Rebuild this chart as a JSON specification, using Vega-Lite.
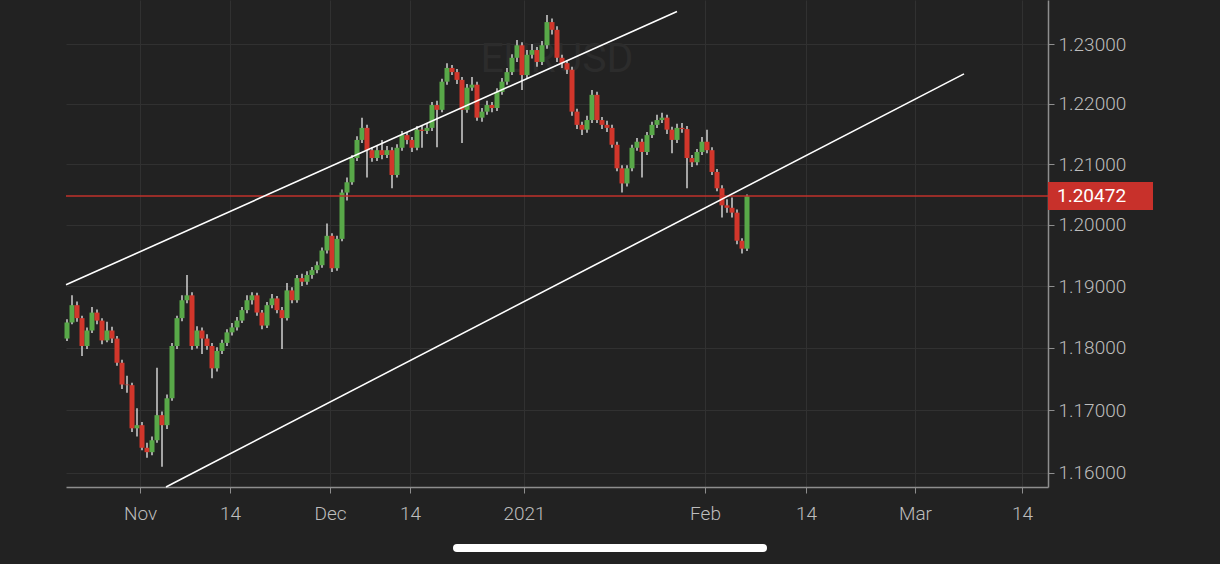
{
"$schema": "https://vega.github.io/schema/vega-lite/v6.json",
"width": 982, "height": 487,
"autosize": {"type": "none"},
"padding": {"left": 66, "top": 0, "right": 172, "bottom": 77},
"background": "#222222",
"config": {"view": {"stroke": null}, "font": "Roboto"},
"datasets": {
"candles": [
{"k":0,"o":1.1815,"h":1.1846,"l":1.1811,"c":1.1841},
{"k":1,"o":1.1841,"h":1.1885,"l":1.1838,"c":1.1869},
{"k":2,"o":1.1869,"h":1.1875,"l":1.1842,"c":1.1848},
{"k":3,"o":1.1848,"h":1.1852,"l":1.1787,"c":1.1803},
{"k":4,"o":1.1803,"h":1.1833,"l":1.1798,"c":1.1828},
{"k":5,"o":1.1828,"h":1.1866,"l":1.1824,"c":1.1857},
{"k":6,"o":1.1857,"h":1.1862,"l":1.1838,"c":1.1844},
{"k":7,"o":1.1844,"h":1.1848,"l":1.1806,"c":1.1812},
{"k":8,"o":1.1812,"h":1.1842,"l":1.1809,"c":1.1828},
{"k":9,"o":1.1828,"h":1.1834,"l":1.1808,"c":1.1815},
{"k":10,"o":1.1815,"h":1.1819,"l":1.1771,"c":1.1776},
{"k":11,"o":1.1776,"h":1.1781,"l":1.1734,"c":1.1741},
{"k":12,"o":1.1741,"h":1.1755,"l":1.1728,"c":1.1740},
{"k":13,"o":1.1740,"h":1.1744,"l":1.1665,"c":1.1671},
{"k":14,"o":1.1671,"h":1.1703,"l":1.1658,"c":1.1676},
{"k":15,"o":1.1676,"h":1.1681,"l":1.1636,"c":1.1640},
{"k":16,"o":1.1640,"h":1.1648,"l":1.1624,"c":1.1633},
{"k":17,"o":1.1633,"h":1.1658,"l":1.1628,"c":1.1652},
{"k":18,"o":1.1652,"h":1.1768,"l":1.1648,"c":1.1692},
{"k":19,"o":1.1692,"h":1.1698,"l":1.1610,"c":1.1676},
{"k":20,"o":1.1676,"h":1.1725,"l":1.1670,"c":1.1719},
{"k":21,"o":1.1719,"h":1.1808,"l":1.1715,"c":1.1803},
{"k":22,"o":1.1803,"h":1.1852,"l":1.1798,"c":1.1848},
{"k":23,"o":1.1848,"h":1.1885,"l":1.1843,"c":1.1877},
{"k":24,"o":1.1877,"h":1.1918,"l":1.1872,"c":1.1885},
{"k":25,"o":1.1885,"h":1.1890,"l":1.1797,"c":1.1803},
{"k":26,"o":1.1803,"h":1.1835,"l":1.1799,"c":1.1828},
{"k":27,"o":1.1828,"h":1.1833,"l":1.1790,"c":1.1815},
{"k":28,"o":1.1815,"h":1.1822,"l":1.1797,"c":1.1803},
{"k":29,"o":1.1803,"h":1.1808,"l":1.1751,"c":1.1767},
{"k":30,"o":1.1767,"h":1.1801,"l":1.1762,"c":1.1795},
{"k":31,"o":1.1795,"h":1.1813,"l":1.1790,"c":1.1808},
{"k":32,"o":1.1808,"h":1.1830,"l":1.1803,"c":1.1825},
{"k":33,"o":1.1825,"h":1.1840,"l":1.1820,"c":1.1833},
{"k":34,"o":1.1833,"h":1.1850,"l":1.1828,"c":1.1844},
{"k":35,"o":1.1844,"h":1.1866,"l":1.1840,"c":1.1861},
{"k":36,"o":1.1861,"h":1.1885,"l":1.1856,"c":1.1877},
{"k":37,"o":1.1877,"h":1.1890,"l":1.1870,"c":1.1885},
{"k":38,"o":1.1885,"h":1.1889,"l":1.1852,"c":1.1857},
{"k":39,"o":1.1857,"h":1.1861,"l":1.1830,"c":1.1836},
{"k":40,"o":1.1836,"h":1.1874,"l":1.1832,"c":1.1869},
{"k":41,"o":1.1869,"h":1.1887,"l":1.1864,"c":1.1880},
{"k":42,"o":1.1880,"h":1.1884,"l":1.1856,"c":1.1861},
{"k":43,"o":1.1861,"h":1.1866,"l":1.1798,"c":1.1848},
{"k":44,"o":1.1848,"h":1.1905,"l":1.1844,"c":1.1893},
{"k":45,"o":1.1893,"h":1.1898,"l":1.1872,"c":1.1877},
{"k":46,"o":1.1877,"h":1.1918,"l":1.1873,"c":1.1913},
{"k":47,"o":1.1913,"h":1.1920,"l":1.1900,"c":1.1907},
{"k":48,"o":1.1907,"h":1.1924,"l":1.1902,"c":1.1918},
{"k":49,"o":1.1918,"h":1.1931,"l":1.1912,"c":1.1926},
{"k":50,"o":1.1926,"h":1.1940,"l":1.1921,"c":1.1934},
{"k":51,"o":1.1934,"h":1.1963,"l":1.1930,"c":1.1958},
{"k":52,"o":1.1958,"h":1.2002,"l":1.1953,"c":1.1982},
{"k":53,"o":1.1982,"h":1.1986,"l":1.1923,"c":1.1929},
{"k":54,"o":1.1929,"h":1.1982,"l":1.1925,"c":1.1977},
{"k":55,"o":1.1977,"h":1.2058,"l":1.1973,"c":1.2053},
{"k":56,"o":1.2053,"h":1.2078,"l":1.2040,"c":1.2070},
{"k":57,"o":1.2070,"h":1.2115,"l":1.2066,"c":1.2110},
{"k":58,"o":1.2110,"h":1.2146,"l":1.2105,"c":1.2140},
{"k":59,"o":1.2140,"h":1.2177,"l":1.2135,"c":1.2160},
{"k":60,"o":1.2160,"h":1.2165,"l":1.2078,"c":1.2123},
{"k":61,"o":1.2123,"h":1.2128,"l":1.2104,"c":1.2110},
{"k":62,"o":1.2110,"h":1.2130,"l":1.2105,"c":1.2123},
{"k":63,"o":1.2123,"h":1.2140,"l":1.2108,"c":1.2115},
{"k":64,"o":1.2115,"h":1.2130,"l":1.2110,"c":1.2123},
{"k":65,"o":1.2123,"h":1.2128,"l":1.2060,"c":1.2082},
{"k":66,"o":1.2082,"h":1.2133,"l":1.2078,"c":1.2127},
{"k":67,"o":1.2127,"h":1.2155,"l":1.2122,"c":1.2148},
{"k":68,"o":1.2148,"h":1.2153,"l":1.2133,"c":1.2140},
{"k":69,"o":1.2140,"h":1.2145,"l":1.2120,"c":1.2127},
{"k":70,"o":1.2127,"h":1.2163,"l":1.2123,"c":1.2157},
{"k":71,"o":1.2157,"h":1.2163,"l":1.2127,"c":1.2155},
{"k":72,"o":1.2155,"h":1.2168,"l":1.2150,"c":1.2160},
{"k":73,"o":1.2160,"h":1.2203,"l":1.2155,"c":1.2198},
{"k":74,"o":1.2198,"h":1.2205,"l":1.2128,"c":1.2190},
{"k":75,"o":1.2190,"h":1.2242,"l":1.2186,"c":1.2237},
{"k":76,"o":1.2237,"h":1.2268,"l":1.2232,"c":1.2260},
{"k":77,"o":1.2260,"h":1.2265,"l":1.2248,"c":1.2253},
{"k":78,"o":1.2253,"h":1.2258,"l":1.2233,"c":1.2240},
{"k":79,"o":1.2240,"h":1.2245,"l":1.2135,"c":1.2190},
{"k":80,"o":1.2190,"h":1.2233,"l":1.2185,"c":1.2227},
{"k":81,"o":1.2227,"h":1.2245,"l":1.2222,"c":1.2232},
{"k":82,"o":1.2232,"h":1.2237,"l":1.2172,"c":1.2177},
{"k":83,"o":1.2177,"h":1.2193,"l":1.2170,"c":1.2187},
{"k":84,"o":1.2187,"h":1.2205,"l":1.2182,"c":1.2198},
{"k":85,"o":1.2198,"h":1.2203,"l":1.2186,"c":1.2193},
{"k":86,"o":1.2193,"h":1.2226,"l":1.2188,"c":1.2220},
{"k":87,"o":1.2220,"h":1.2243,"l":1.2215,"c":1.2237},
{"k":88,"o":1.2237,"h":1.2260,"l":1.2232,"c":1.2253},
{"k":89,"o":1.2253,"h":1.2283,"l":1.2248,"c":1.2277},
{"k":90,"o":1.2277,"h":1.2307,"l":1.2270,"c":1.2298},
{"k":91,"o":1.2298,"h":1.2303,"l":1.2223,"c":1.2248},
{"k":92,"o":1.2248,"h":1.2290,"l":1.2243,"c":1.2282},
{"k":93,"o":1.2282,"h":1.2300,"l":1.2276,"c":1.2290},
{"k":94,"o":1.2290,"h":1.2295,"l":1.2262,"c":1.2270},
{"k":95,"o":1.2270,"h":1.2305,"l":1.2265,"c":1.2298},
{"k":96,"o":1.2298,"h":1.2349,"l":1.2292,"c":1.2337},
{"k":97,"o":1.2337,"h":1.2343,"l":1.2316,"c":1.2324},
{"k":98,"o":1.2324,"h":1.2330,"l":1.2270,"c":1.2277},
{"k":99,"o":1.2277,"h":1.2282,"l":1.2260,"c":1.2268},
{"k":100,"o":1.2268,"h":1.2273,"l":1.2250,"c":1.2257},
{"k":101,"o":1.2257,"h":1.2262,"l":1.2180,"c":1.2187},
{"k":102,"o":1.2187,"h":1.2192,"l":1.2158,"c":1.2165},
{"k":103,"o":1.2165,"h":1.2170,"l":1.2148,"c":1.2157},
{"k":104,"o":1.2157,"h":1.2180,"l":1.2152,"c":1.2173},
{"k":105,"o":1.2173,"h":1.2223,"l":1.2168,"c":1.2215},
{"k":106,"o":1.2215,"h":1.2220,"l":1.2168,"c":1.2173},
{"k":107,"o":1.2173,"h":1.2178,"l":1.2158,"c":1.2165},
{"k":108,"o":1.2165,"h":1.2172,"l":1.2153,"c":1.2160},
{"k":109,"o":1.2160,"h":1.2165,"l":1.2127,"c":1.2132},
{"k":110,"o":1.2132,"h":1.2137,"l":1.2088,"c":1.2093},
{"k":111,"o":1.2093,"h":1.2098,"l":1.2053,"c":1.2068},
{"k":112,"o":1.2068,"h":1.2098,"l":1.2063,"c":1.2093},
{"k":113,"o":1.2093,"h":1.2132,"l":1.2088,"c":1.2127},
{"k":114,"o":1.2127,"h":1.2143,"l":1.2122,"c":1.2137},
{"k":115,"o":1.2137,"h":1.2142,"l":1.2078,"c":1.2120},
{"k":116,"o":1.2120,"h":1.2153,"l":1.2115,"c":1.2148},
{"k":117,"o":1.2148,"h":1.2170,"l":1.2143,"c":1.2165},
{"k":118,"o":1.2165,"h":1.2182,"l":1.2160,"c":1.2173},
{"k":119,"o":1.2173,"h":1.2185,"l":1.2168,"c":1.2177},
{"k":120,"o":1.2177,"h":1.2182,"l":1.2150,"c":1.2157},
{"k":121,"o":1.2157,"h":1.2162,"l":1.2118,"c":1.2140},
{"k":122,"o":1.2140,"h":1.2167,"l":1.2135,"c":1.2160},
{"k":123,"o":1.2160,"h":1.2168,"l":1.2152,"c":1.2158},
{"k":124,"o":1.2158,"h":1.2163,"l":1.2060,"c":1.2110},
{"k":125,"o":1.2110,"h":1.2115,"l":1.2095,"c":1.2103},
{"k":126,"o":1.2103,"h":1.2125,"l":1.2098,"c":1.2120},
{"k":127,"o":1.2120,"h":1.2145,"l":1.2115,"c":1.2137},
{"k":128,"o":1.2137,"h":1.2157,"l":1.2118,"c":1.2123},
{"k":129,"o":1.2123,"h":1.2128,"l":1.2082,"c":1.2087},
{"k":130,"o":1.2087,"h":1.2092,"l":1.2055,"c":1.2060},
{"k":131,"o":1.2060,"h":1.2065,"l":1.2012,"c":1.2032},
{"k":132,"o":1.2032,"h":1.2042,"l":1.2020,"c":1.2028},
{"k":133,"o":1.2028,"h":1.2045,"l":1.2012,"c":1.2020},
{"k":134,"o":1.2020,"h":1.2025,"l":1.1968,"c":1.1974},
{"k":135,"o":1.1974,"h":1.1978,"l":1.1953,"c":1.1961},
{"k":136,"o":1.1961,"h":1.2050,"l":1.1957,"c":1.2047}
],
"trend": [
{"k":-0.2,"p":1.1902,"g":"a"},{"k":122,"p":1.2355,"g":"a"},
{"k":19.8,"p":1.15778,"g":"b"},{"k":179.4,"p":1.2250,"g":"b"}
],
"mark": [{"name": "EURUSD", "k": 98, "p": 1.2273}],
"last": [{"p": 1.20472, "txt": "1.20472", "k1": 196.2, "k2": 217.2, "kt": 198, "ptop": 1.20706, "pbot": 1.20245}],
"bar": [{"k1": 78.0, "k2": 139.2, "p": 1.14818}]
},
"layer": [
{
"data": {"name": "mark"},
"mark": {"type": "text", "fontSize": 41, "font": "Roboto", "color": "#2c2c2c", "align": "center", "baseline": "middle"},
"encoding": {
"x": {"field": "k", "type": "quantitative",
"scale": {"type": "linear", "domain": [-0.2, 196.2], "nice": false, "zero": false, "padding": 0},
"axis": {"title": null, "values": [14.6, 32.6, 52.6, 68.6, 91.4, 127.6, 147.8, 169.6, 191.0],
"labelExpr": "datum.value < 20 ? 'Nov' : datum.value < 40 ? '14' : datum.value < 60 ? 'Dec' : datum.value < 80 ? '14' : datum.value < 100 ? '2021' : datum.value < 135 ? 'Feb' : datum.value < 160 ? '14' : datum.value < 180 ? 'Mar' : '14'",
"grid": true, "gridColor": "#313131", "gridWidth": 1, "domainColor": "#8e8e8e", "domainWidth": 1.5, "tickColor": "#8e8e8e", "tickSize": 6, "tickWidth": 1,
"labelColor": "#bdbdbd", "labelFont": "Roboto", "labelFontWeight": 300, "labelFontSize": 19, "labelPadding": 11, "labelFlush": false, "labelOverlap": false, "labelBound": false}},
"y": {"field": "p", "type": "quantitative",
"scale": {"type": "log", "domain": [1.15778, 1.23743], "nice": false, "zero": false, "padding": 0},
"axis": {"title": null, "orient": "right", "values": [1.16, 1.17, 1.18, 1.19, 1.2, 1.21, 1.22, 1.23], "format": ".5f",
"grid": true, "gridColor": "#313131", "gridWidth": 1, "domainColor": "#8e8e8e", "domainWidth": 1.5, "tickColor": "#8e8e8e", "tickSize": 6, "tickWidth": 1,
"labelColor": "#bdbdbd", "labelFont": "Roboto", "labelFontWeight": 300, "labelFontSize": 19, "labelPadding": 4, "labelFlush": false, "labelOverlap": false, "labelBound": false}},
"text": {"field": "name"}
}
},
{
"data": {"name": "candles"},
"mark": {"type": "rule", "color": "#d2d2d2", "strokeWidth": 1.5},
"encoding": {
"x": {"field": "k", "type": "quantitative"},
"y": {"field": "l", "type": "quantitative"},
"y2": {"field": "h"}
}
},
{
"data": {"name": "candles"},
"mark": {"type": "bar", "size": 5},
"encoding": {
"x": {"field": "k", "type": "quantitative"},
"y": {"field": "o", "type": "quantitative"},
"y2": {"field": "c"},
"color": {"condition": {"test": "datum.c > datum.o", "value": "#58a848"}, "value": "#d1362b"}
}
},
{
"data": {"name": "last"},
"mark": {"type": "rule", "color": "#c0322b", "strokeWidth": 1.5},
"encoding": {"y": {"field": "p", "type": "quantitative"}}
},
{
"data": {"name": "trend"},
"mark": {"type": "line", "color": "#ffffff", "strokeWidth": 1.6},
"encoding": {
"x": {"field": "k", "type": "quantitative"},
"y": {"field": "p", "type": "quantitative"},
"detail": {"field": "g"}
}
},
{
"data": {"name": "last"},
"mark": {"type": "rect", "color": "#c8312b"},
"encoding": {
"x": {"field": "k1", "type": "quantitative"},
"x2": {"field": "k2"},
"y": {"field": "ptop", "type": "quantitative"},
"y2": {"field": "pbot"}
}
},
{
"data": {"name": "last"},
"mark": {"type": "text", "font": "Roboto", "fontSize": 19, "color": "#ffffff", "align": "left", "baseline": "middle"},
"encoding": {
"x": {"field": "kt", "type": "quantitative"},
"y": {"field": "p", "type": "quantitative"},
"text": {"field": "txt"}
}
},
{
"data": {"name": "bar"},
"mark": {"type": "rule", "color": "#ffffff", "strokeWidth": 8, "strokeCap": "round"},
"encoding": {
"x": {"field": "k1", "type": "quantitative"},
"x2": {"field": "k2"},
"y": {"field": "p", "type": "quantitative"}
}
}
]
}
